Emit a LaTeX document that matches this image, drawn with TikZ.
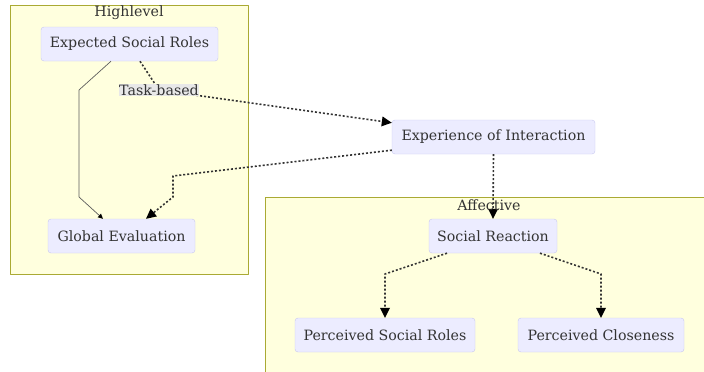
\documentclass[tikz,border=0pt]{standalone}
\usepackage{fontspec}
\setmainfont{DejaVu Serif}
\usetikzlibrary{arrows.meta}
\definecolor{txtgray}{HTML}{333333}
\definecolor{boxfill}{HTML}{ECECFF}
\definecolor{boxline}{HTML}{C8C8F0}
\definecolor{clusterfill}{HTML}{FFFFDE}
\definecolor{clusterline}{HTML}{AAAA33}
\definecolor{labelfill}{HTML}{E8E8E8}
\begin{document}
\begin{tikzpicture}[x=1pt,y=-1pt,line join=round,
    lbl/.style={text=txtgray,font=\fontsize{14.2}{16}\selectfont},
    box/.style={lbl,draw=boxline,fill=boxfill,rounded corners=3pt,minimum height=34pt,
      inner sep=0pt},
    cluster/.style={draw=clusterline,fill=clusterfill,line width=0.8pt},
    dotlink/.style={draw=txtgray,line width=1.6pt,dash pattern=on 2pt off 2pt,
      -{Triangle[length=10pt,width=10pt,fill=black,line width=0pt]}},
    solidlink/.style={draw=txtgray!80,line width=0.7pt,
      -{Triangle[length=5pt,width=5pt,fill=black,line width=0pt]}}]
    \useasboundingbox (0,0) rectangle (704,372);

    % clusters
    \draw[cluster] (10,5) rectangle (248,274);
    \draw[cluster] (265,197) rectangle (712,380);
    \node[lbl] (hl) at (129,13) {Highlevel};

    % nodes
    \node[box,minimum width=177pt] (esr) at (129.5,44) {Expected Social Roles};
    \node[box,minimum width=203pt] (eoi) at (493.5,137) {Experience of Interaction};
    \node[box,minimum width=147pt] (ge) at (121.5,236) {Global Evaluation};
    \node[box,minimum width=128pt] (sr) at (493,236) {Social Reaction};
    \node[box,minimum width=180pt] (psr) at (385,335) {Perceived Social Roles};
    \node[box,minimum width=166pt] (pc) at (601,335) {Perceived Closeness};

    % edges
    \coordinate (t1) at (79,90);
    \coordinate (t2) at (79,197);
    \draw[solidlink] ([xshift=-18.5pt]esr.south) -- (t1) -- (t2) -- ([xshift=-18.5pt]ge.north);

    \coordinate (tb) at (159,90);
    \draw[dotlink] ([xshift=10.5pt]esr.south) -- (tb) -- ([yshift=-3pt]eoi.north west);
    \node[lbl,fill=labelfill,inner sep=0.5pt] (task) at (tb) {Task-based};

    \coordinate (g1) at (173,176);
    \coordinate (g2) at (173,197);
    \draw[dotlink] ([yshift=4pt]eoi.south west) -- (g1) -- (g2) -- ([xshift=24.5pt]ge.north);

    \draw[dotlink] (eoi.south) -- (sr.north);

    \coordinate (p1) at (385,274);
    \coordinate (p2) at (601,274);
    \draw[dotlink] ([xshift=-46pt]sr.south) -- (p1) -- (psr.north);
    \draw[dotlink] ([xshift=47pt]sr.south) -- (p2) -- (pc.north);

    \node[lbl] (af) at (489,205) {Affective};
\end{tikzpicture}
\end{document}
